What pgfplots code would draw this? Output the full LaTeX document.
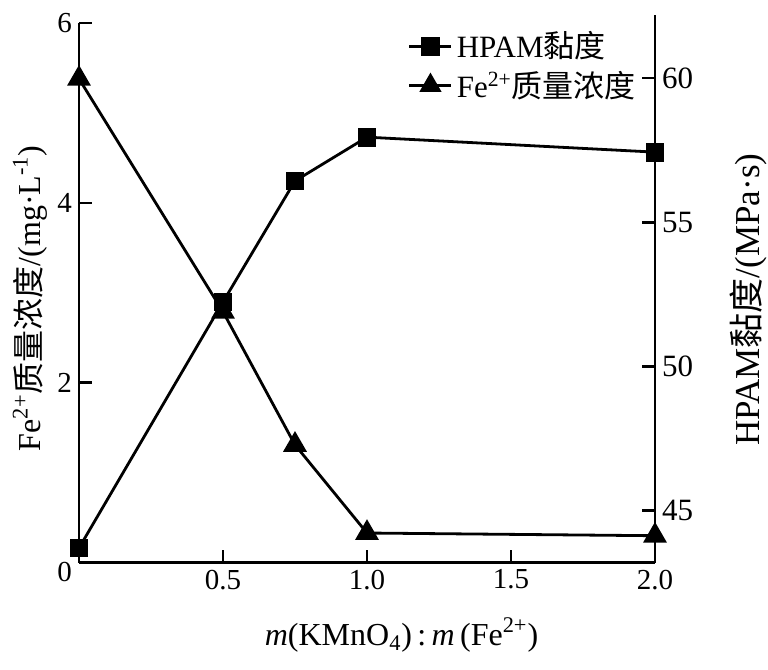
\documentclass[border=0pt]{standalone}
\usepackage{pgfplots}
\pgfplotsset{compat=1.18}
\usepackage{fontspec}
\setmainfont{Liberation Serif}
\newfontfamily\cjk{Noto Sans CJK SC}
\begin{document}
\begin{tikzpicture}
\path[use as bounding box] (-39.5pt,-53.65pt) rectangle (344.5pt,281.35pt);
\pgfplotsset{
  every axis/.append style={
    scale only axis, width=288pt, xmin=0, xmax=2, clip=false,
    axis line style={line width=1.4pt, black},
    major tick style={line width=1.4pt, black},
    tick align=inside, major tick length=6.5pt,
    /pgf/number format/assume math mode=true,
    tick label style={font=\fontsize{14.5}{16}\selectfont},
    label style={font=\fontsize{16}{18}\selectfont},
  },
}
\begin{axis}[at={(0,0)}, anchor=south west, height=269.85pt,
  axis x line*=bottom, axis y line*=left,
  ymin=0, ymax=6, ytick={2,4,6},
  extra y ticks={0}, extra y tick labels={0},
  extra y tick style={yticklabel style={yshift=-4.5pt}},
  xtick={0.5,1.0,1.5,2.0}, xticklabels={0.5,1.0,1.5,2.0},
  ylabel={Fe\textsuperscript{2+}{\cjk 质量浓度}/(mg·L\textsuperscript{-1})},
  ylabel style={at={(axis description cs:-0.085,0.49)}, anchor=center},
  xlabel={\textit{m}(KMnO\textsubscript{4})\,:\,\textit{m}\,(Fe\textsuperscript{2+})},
  xlabel style={at={(axis description cs:0.56,-0.134)}, anchor=center},
]
\addplot[black, line width=1.4pt, mark=triangle*, mark size=5.5pt] coordinates {
  (0,5.38) (0.5,2.79) (0.75,1.31) (1.0,0.33) (2.0,0.30)};
\end{axis}
\begin{axis}[at={(0,0)}, anchor=south west, height=273.85pt,
  axis x line=none, axis y line*=right,
  ymin=43.18, ymax=62.19, ytick={45,50,55,60},
  yticklabel style={font=\fontsize{15.5}{17}\selectfont},
  ylabel={HPAM{\cjk 黏度}/(MPa·s)},
  ylabel style={at={(axis description cs:1.1615,0.48)}, anchor=center, font=\fontsize{17.5}{19}\selectfont},
  legend style={at={(rel axis cs:0.985,0.985)}, anchor=north east, draw=none, fill=none,
    font=\fontsize{15.5}{17}\selectfont, row sep=1pt},
  legend cell align=left,
  legend image code/.code={\draw[mark repeat=2,mark phase=2] plot coordinates {(0pt,0pt) (10.5pt,0pt) (21pt,0pt)};},
]
\addplot[black, line width=1.4pt, mark=square*, mark size=4pt] coordinates {
  (0,43.69) (0.5,52.23) (0.75,56.43) (1.0,57.95) (2.0,57.43)};
\addlegendentry{HPAM{\cjk 黏度}}
\addlegendimage{black, line width=1.4pt, mark=triangle*, mark size=5pt}
\addlegendentry{Fe\textsuperscript{2+}{\cjk 质量浓度}}
\end{axis}
\end{tikzpicture}
\end{document}
